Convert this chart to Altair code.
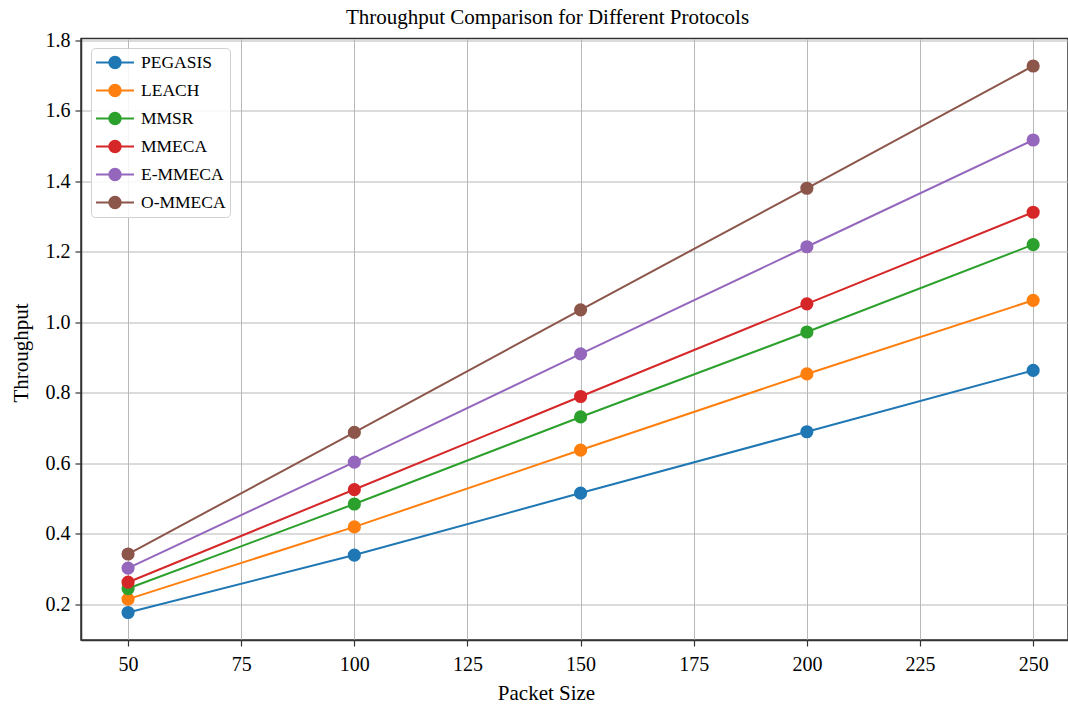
import altair as alt
import pandas as pd

packet_sizes = [50, 100, 150, 200, 250]
protocols = ["PEGASIS", "LEACH", "MMSR", "MMECA", "E-MMECA", "O-MMECA"]
pegasis = [0.176, 0.339, 0.515, 0.689, 0.863]
leach = [0.214, 0.419, 0.637, 0.853, 1.062]
mmsr = [0.244, 0.484, 0.731, 0.972, 1.220]
mmeca = [0.262, 0.525, 0.789, 1.052, 1.312]
e_mmeca = [0.302, 0.603, 0.910, 1.214, 1.517]
o_mmeca = [0.342, 0.687, 1.035, 1.380, 1.727]
colors = ["#1f77b4", "#ff7f0e", "#2ca02c", "#d62728", "#9467bd", "#8c564b"]
x_ticks = [50, 75, 100, 125, 150, 175, 200, 225, 250]
y_ticks = [0.2, 0.4, 0.6, 0.8, 1.0, 1.2, 1.4, 1.6, 1.8]

series = [pegasis, leach, mmsr, mmeca, e_mmeca, o_mmeca]
rows = []
for p, vals in zip(protocols, series):
    for s, v in zip(packet_sizes, vals):
        rows.append({"Packet Size": s, "Throughput": v, "Protocol": p})
df = pd.DataFrame(rows)

FONT = "Liberation Serif"
# legend glyph: a short line with a dot in its middle (matplotlib style)
sym_path = "M-1,0L3,0M1.6,0A0.6,0.6,0,1,1,0.4,0A0.6,0.6,0,1,1,1.6,0Z"

legend = alt.Legend(
    title=None,
    orient="none",
    legendX=10,
    legendY=9.5,
    labelFont=FONT,
    labelFontSize=17.5,
    labelColor="black",
    strokeColor="#d0d0d0",
    fillColor="rgba(255,255,255,0.85)",
    cornerRadius=4,
    padding=4,
    rowPadding=7,
    labelOffset=25,
    symbolType=sym_path,
    symbolSize=361,
    symbolStrokeWidth=2,
    symbolOpacity=1,
)

cscale = alt.Scale(domain=protocols, range=colors)

x = alt.X(
    "Packet Size:Q",
    scale=alt.Scale(domain=[39.6, 257.7], nice=False, zero=False),
    axis=alt.Axis(
        values=x_ticks,
        title="Packet Size",
        titleX=465,
        titleY=59,
        titleBaseline="alphabetic",
        titleAlign="center",
    ),
)
y = alt.Y(
    "Throughput:Q",
    scale=alt.Scale(domain=[0.098, 1.805], nice=False, zero=False),
    axis=alt.Axis(
        values=y_ticks,
        format=".1f",
        title="Throughput",
        titleX=-54,
        titleY=314,
        titleAngle=270,
        titleBaseline="alphabetic",
        titleAlign="center",
    ),
)

base = alt.Chart(df).encode(x=x, y=y)
lines = base.mark_line(strokeWidth=2).encode(
    stroke=alt.Stroke("Protocol:N", scale=cscale, sort=protocols, legend=legend)
)
points = base.mark_point(filled=True, size=125, opacity=1).encode(
    fill=alt.Fill("Protocol:N", scale=cscale, sort=protocols, legend=legend),
    stroke=alt.Stroke("Protocol:N", scale=cscale, sort=protocols, legend=legend),
)

chart = (
    alt.layer(lines, points)
    .properties(
        width=987,
        height=601.5,
        title=alt.TitleParams(
            "Throughput Comparison for Different Protocols",
            font=FONT,
            fontSize=21,
            fontWeight="normal",
            color="black",
            anchor="middle",
            dx=-27,
            dy=10,
            offset=12,
        ),
        autosize=alt.AutoSizeParams(type="none"),
        padding={"left": 81, "top": 38.5, "right": 0, "bottom": 64},
    )
    .configure_view(stroke="#333333", strokeWidth=1.5)
    .configure_axis(
        labelFont=FONT,
        labelFontSize=20,
        labelColor="black",
        titleFont=FONT,
        titleFontSize=21,
        titleFontWeight="normal",
        titleColor="black",
        tickSize=6,
        tickColor="#333333",
        tickWidth=1.2,
        domainColor="#333333",
        domainWidth=1.5,
        gridColor="#b8b8b8",
        gridWidth=1,
        grid=True,
    )
    .configure_axisX(labelPadding=8)
    .configure_axisY(labelPadding=5)
)

chart.save("out.html", embed_options={"renderer": "svg", "actions": False})
